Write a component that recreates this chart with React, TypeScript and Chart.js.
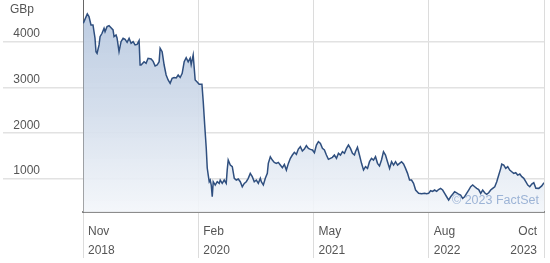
import React, { useEffect, useRef } from "react";
import { Chart, registerables } from "chart.js";

Chart.register(...registerables);

// months since Nov 2018
const months = [
  0.04, 0.56, 0.78, 1.04, 1.3, 1.56, 1.69, 1.83, 2.09, 2.22, 2.48, 2.74, 2.87, 3.13, 3.39, 3.65, 3.91, 4.04,
  4.3, 4.43, 4.69, 4.95, 5.22, 5.48, 5.74, 6.0, 6.26, 6.52, 6.78, 7.04, 7.3, 7.43, 7.56, 7.95, 8.21, 8.47,
  8.87, 9.13, 9.39, 9.65, 9.91, 10.04, 10.3, 10.56, 10.82, 11.08, 11.34, 11.6, 11.86, 12.13, 12.39, 12.65,
  12.91, 13.17, 13.43, 13.69, 13.95, 14.08, 14.34, 14.6, 14.86, 15.12, 15.48, 15.65, 15.84, 16.04, 16.17,
  16.3, 16.43, 16.56, 16.69, 16.82, 16.95, 17.21, 17.47, 17.73, 17.86, 18.12, 18.38, 18.64, 18.77, 18.9,
  19.17, 19.43, 19.69, 19.95, 20.21, 20.47, 20.73, 20.99, 21.25, 21.51, 21.77, 22.03, 22.29, 22.56, 22.82,
  23.08, 23.21, 23.47, 23.73, 23.99, 24.12, 24.38, 24.64, 24.9, 25.16, 25.42, 25.68, 25.95, 26.21, 26.47,
  26.73, 26.99, 27.25, 27.51, 27.77, 28.03, 28.29, 28.55, 28.81, 29.07, 29.34, 29.6, 29.86, 30.12, 30.38,
  30.64, 30.9, 31.16, 31.42, 31.68, 31.94, 32.2, 32.46, 32.72, 32.99, 33.25, 33.51, 33.77, 34.03, 34.29,
  34.55, 34.81, 35.07, 35.33, 35.46, 35.72, 35.98, 36.25, 36.51, 36.77, 37.03, 37.29, 37.55, 37.81, 38.07,
  38.33, 38.59, 38.85, 39.11, 39.37, 39.63, 39.9, 40.16, 40.42, 40.68, 40.94, 41.2, 41.46, 41.72, 41.98,
  42.24, 42.5, 42.76, 43.02, 43.29, 43.68, 44.07, 44.46, 44.72, 44.98, 45.24, 45.5, 45.76, 46.03, 46.28,
  46.54, 46.81, 47.07, 47.33, 47.59, 47.85, 48.11, 48.37, 48.63, 48.89, 49.15, 49.41, 49.67, 49.93, 50.2,
  50.46, 50.72, 50.98, 51.24, 51.5, 51.76, 52.02, 52.28, 52.54, 52.8, 53.06, 53.32, 53.59, 53.85, 54.11,
  54.37, 54.5, 54.76, 55.02, 55.28, 55.54, 55.8, 56.06, 56.32, 56.58, 56.85, 57.11, 57.37, 57.63, 57.89,
  58.15, 58.41, 58.67, 58.94, 59.32, 59.71, 60.0,
];

// share price, GBp
const prices = [
  4402, 4605, 4546, 4365, 4365, 4080, 3781, 3746, 3928, 4110, 4183, 4293, 4219, 4328, 4350, 4306, 4256, 4110,
  4146, 4080, 3781, 4000, 4073, 4051, 3986, 4073, 3965, 4000, 3928, 3940, 4022, 3490, 3490, 3563, 3528, 3637,
  3622, 3570, 3470, 3490, 3563, 3855, 3781, 3490, 3272, 3163, 3090, 3200, 3218, 3207, 3272, 3218,
  3309, 3563, 3650, 3560, 3640, 3500, 3710, 3163, 3120, 3070, 3069, 2689, 2180, 1677, 1240,
  1087, 941, 978, 869, 613, 941, 869, 941, 905, 978, 905, 978, 906, 1200, 1415,
  1306, 1270, 1015, 978, 1000, 941, 832, 905, 941, 1015, 1124, 1051, 941, 978, 905,
  1015, 941, 869, 1015, 1124, 1342, 1487, 1415, 1364, 1342, 1364, 1306, 1248, 1320, 1197,
  1342, 1452, 1524, 1583, 1540, 1655, 1706, 1612, 1655, 1728, 1670, 1648, 1634, 1575, 1743,
  1815, 1779, 1670, 1634, 1524, 1430, 1452, 1474, 1524, 1452, 1561, 1524, 1597, 1561, 1670,
  1743, 1670, 1561, 1524, 1597, 1692, 1524, 1343, 1197, 1270, 1233, 1379, 1452, 1415, 1488,
  1343, 1285, 1415, 1597, 1524, 1379, 1233, 1379, 1306, 1379, 1306, 1343, 1379, 1328, 1233,
  1124, 978, 978, 905, 760, 687, 680, 687, 680, 687, 745, 730, 760, 730, 770,
  796, 760, 687, 613, 540, 613, 666, 723, 700, 666, 650, 578, 613, 687, 760,
  832, 869, 832, 796, 770, 687, 760, 700, 666, 700, 760, 796, 832, 941, 1087,
  1233, 1328, 1306, 1233, 1270, 1197, 1160, 1124, 1138, 1087, 1110, 1051, 1015, 941, 869,
  832, 890, 920, 800, 796, 850, 920,
];

const xTickMonths = [0, 15, 30, 45, 60];
const xTickLabels = [
  ["Nov", "2018"],
  ["Feb", "2020"],
  ["May", "2021"],
  ["Aug", "2022"],
  ["Oct", "2023"],
];
const yTickValues = [1000, 2000, 3000, 4000];
const unitLabel = "GBp";
const watermark = "\u00A9 2023 FactSet";

const FONT = '12px "Liberation Sans", Arial, Helvetica, sans-serif';

const labelsPlugin = {
  id: "factsetLabels",
  afterDraw(chart: any) {
    const { ctx, scales } = chart;
    const xs = scales.x;
    const ys = scales.y;
    ctx.save();
    ctx.font = FONT;
    ctx.fillStyle = "#555555";
    ctx.textBaseline = "middle";
    ctx.textAlign = "left";
    ctx.fillText(unitLabel, 10, 10);
    ctx.textAlign = "right";
    yTickValues.forEach((v) => {
      ctx.fillText(String(v), 40, ys.getPixelForValue(v) - 8);
    });
    xTickMonths.forEach((m, i) => {
      const px = xs.getPixelForValue(m);
      const last = i === xTickMonths.length - 1;
      ctx.textAlign = last ? "right" : "left";
      const tx = last ? px - 7 : px + 5;
      ctx.fillText(xTickLabels[i][0], tx, 232);
      ctx.fillText(xTickLabels[i][1], tx, 250.5);
    });
    ctx.font = '12.5px "Liberation Sans", Arial, Helvetica, sans-serif';
    ctx.fillStyle = "#9db4d6";
    ctx.textAlign = "right";
    ctx.fillText(watermark, 539, 200.5);
    ctx.restore();
  },
};

export default function App() {
  const ref = useRef<HTMLCanvasElement | null>(null);
  useEffect(() => {
    document.body.style.margin = "0";
    const canvas = ref.current!;
    const chart = new Chart(canvas, {
      type: "line",
      data: {
        datasets: [
          {
            data: months.map((m, i) => ({ x: m, y: prices[i] })),
            borderColor: "#2f4f7f",
            borderWidth: 1.5,
            pointRadius: 0,
            tension: 0,
            fill: "start",
            backgroundColor: (c: any) => {
              const area = c.chart.chartArea;
              if (!area) return "rgba(190,205,226,0.9)";
              const g = c.chart.ctx.createLinearGradient(0, area.top, 0, area.bottom);
              g.addColorStop(0, "rgba(182,199,223,0.95)");
              g.addColorStop(0.5, "rgba(208,219,234,0.92)");
              g.addColorStop(1, "rgba(243,246,250,0.9)");
              return g;
            },
          },
        ],
      },
      options: {
        responsive: false,
        animation: false,
        layout: { padding: { left: 3, right: 6, top: 0, bottom: 5 } },
        plugins: { legend: { display: false }, tooltip: { enabled: false } },
        scales: {
          x: {
            type: "linear",
            min: 0,
            max: 60,
            afterBuildTicks: (s: any) => {
              s.ticks = xTickMonths.map((v) => ({ value: v }));
            },
            ticks: { display: false },
            grid: { color: "#dcdcdc", lineWidth: 1, tickLength: 46, drawTicks: true },
            border: { color: "#8c8c8c", width: 2 },
          },
          y: {
            type: "linear",
            min: 280,
            max: 4910,
            afterBuildTicks: (s: any) => {
              s.ticks = yTickValues.map((v) => ({ value: v }));
            },
            ticks: { display: false },
            grid: { color: "#e2e2e2", lineWidth: 1.5, tickLength: 80, drawTicks: true },
            border: { color: "#666666", width: 1 },
          },
        },
      },
      plugins: [labelsPlugin],
    });
    return () => chart.destroy();
  }, []);
  return (
    <div style={{ width: 550, height: 263, background: "#fff" }}>
      <canvas ref={ref} width={550} height={263} style={{ display: "block" }} />
    </div>
  );
}
